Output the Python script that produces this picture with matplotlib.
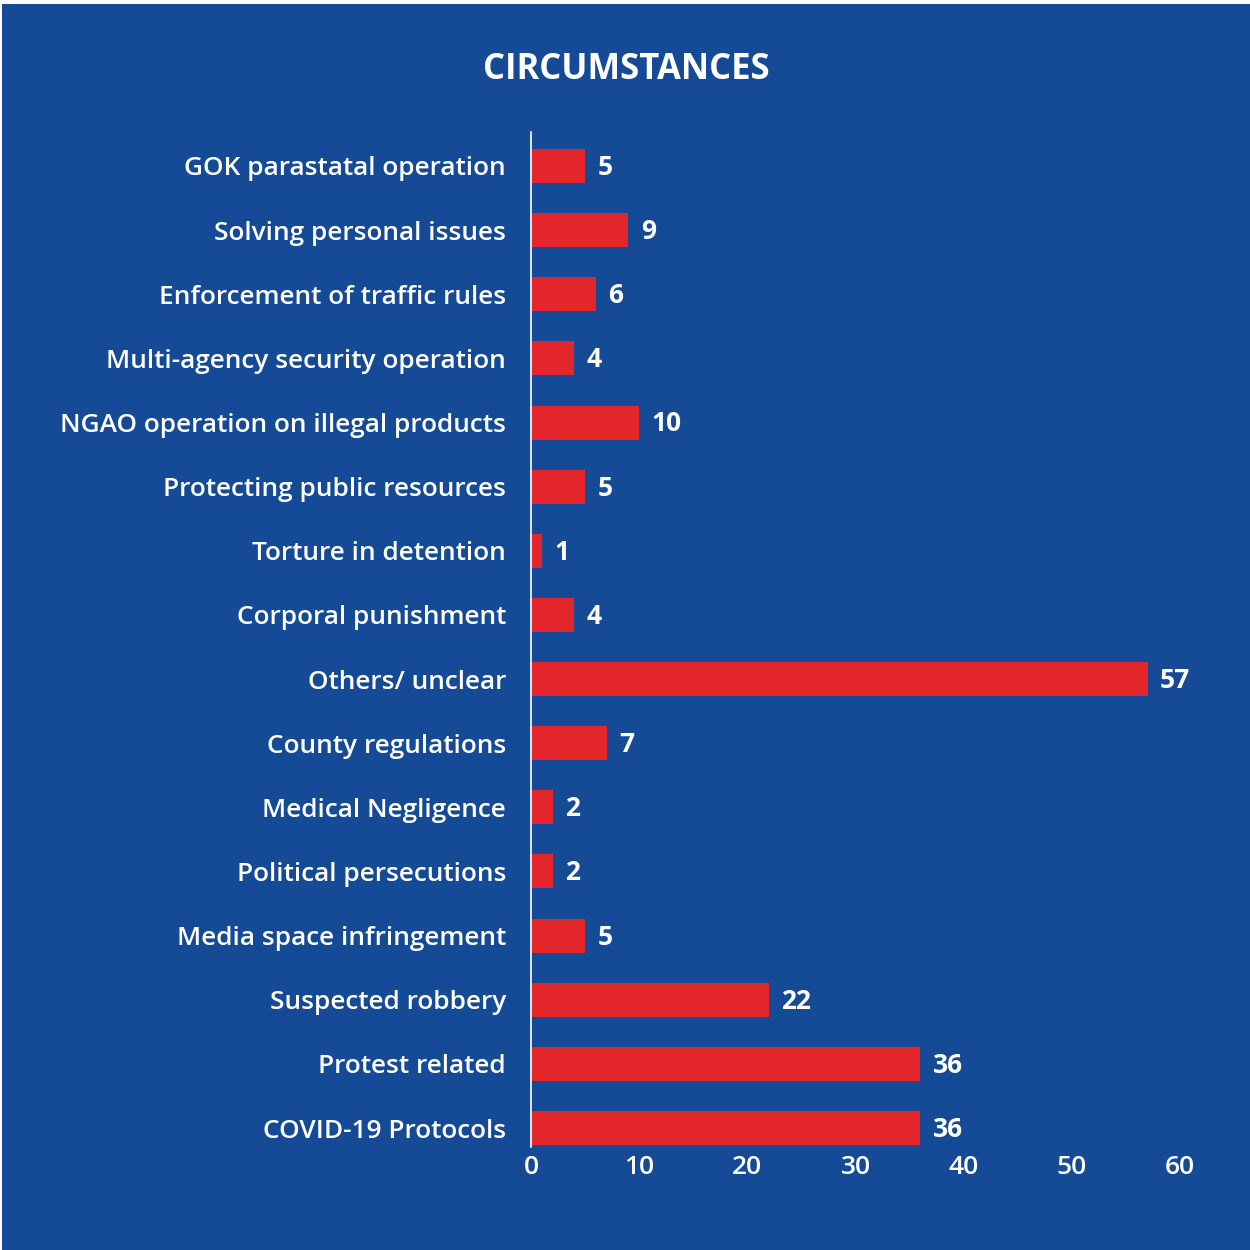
import matplotlib
matplotlib.use("Agg")
import matplotlib.pyplot as plt
from matplotlib.patches import Rectangle

categories = [
    "GOK parastatal operation",
    "Solving personal issues",
    "Enforcement of traffic rules",
    "Multi-agency security operation",
    "NGAO operation on illegal products",
    "Protecting public resources",
    "Torture in detention",
    "Corporal punishment",
    "Others/ unclear",
    "County regulations",
    "Medical Negligence",
    "Political persecutions",
    "Media space infringement",
    "Suspected robbery",
    "Protest related",
    "COVID-19 Protocols",
]
values = [5, 9, 6, 4, 10, 5, 1, 4, 57, 7, 2, 2, 5, 22, 36, 36]
xticks = [0, 10, 20, 30, 40, 50, 60]
title = "CIRCUMSTANCES"

BLUE = "#154a96"
RED = "#e3262a"
FONT = ["Open Sans", "DejaVu Sans"]

plt.rcParams["font.family"] = FONT

W = H = 1250
fig = plt.figure(figsize=(12.5, 12.5), dpi=100, facecolor=BLUE)

left_px, right_px = 531, 1180
top_px, bot_px = 132, 1147
ax = fig.add_axes([left_px / W, 1 - bot_px / H, (right_px - left_px) / W, (bot_px - top_px) / H])
ax.set_facecolor(BLUE)

ypos = list(range(len(categories)))
ax.barh(ypos, values, height=0.53, color=RED, zorder=2)
ax.set_xlim(0, 60)
ax.set_ylim(15.296, -0.53)

ax.set_yticks(ypos)
ax.set_yticklabels(categories, fontsize=18.9, color="white", fontweight="semibold")
ax.set_xticks(xticks)
ax.set_xticklabels([str(t) for t in xticks], fontsize=19, color="white", fontweight="semibold")
ax.tick_params(axis="y", length=0, pad=18)
ax.tick_params(axis="x", length=0, pad=6)

for s in ["top", "right", "bottom"]:
    ax.spines[s].set_visible(False)
ax.spines["left"].set_color("white")
ax.spines["left"].set_linewidth(1.2)
ax.spines["left"].set_zorder(3)

for y, v in zip(ypos, values):
    ax.annotate(str(v), xy=(v, y), xytext=(9, -1), textcoords="offset points",
                va="center", ha="left", color="white", fontsize=19,
                fontweight="bold")

fig.text(626 / W, 1 - 70 / H, title, ha="center", va="center", color="white",
         fontsize=24.9, fontweight="bold")

fig.patches.append(Rectangle((0, 1 - 4 / H), 1, 4 / H, transform=fig.transFigure,
                             facecolor="white", edgecolor="none", zorder=10))
fig.patches.append(Rectangle((0, 0), 2 / W, 1, transform=fig.transFigure,
                             facecolor="white", edgecolor="none", zorder=10))

fig.savefig("out.png", dpi=100, facecolor=BLUE)
